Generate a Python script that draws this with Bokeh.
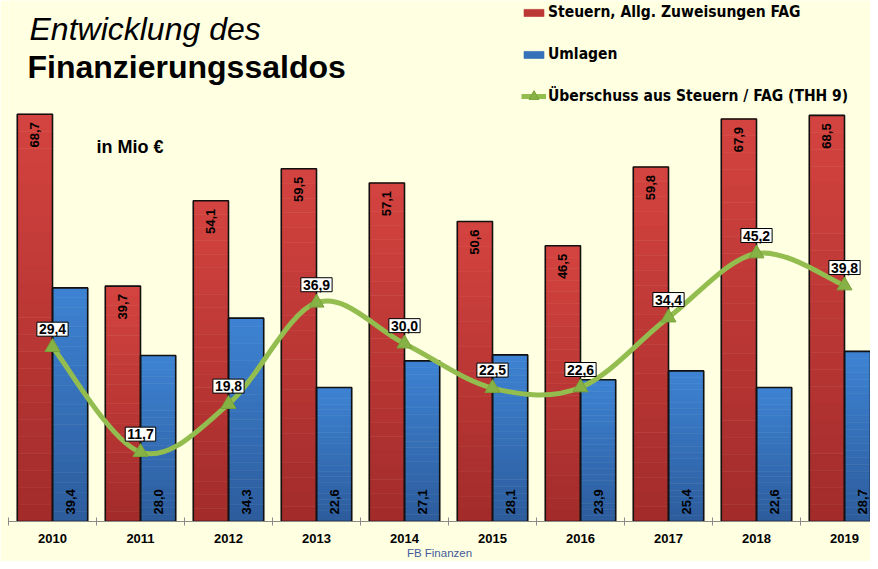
import numpy as np
from bokeh.plotting import figure
from bokeh.models import Range1d, FixedTicker, Legend, LegendItem, Label, ColumnDataSource
from bokeh.core.properties import value
from bokeh.embed import file_html
from bokeh.resources import INLINE

# ---------------- data ----------------
years = ["2010", "2011", "2012", "2013", "2014", "2015", "2016", "2017", "2018", "2019"]
steuern = [68.7, 39.7, 54.1, 59.5, 57.1, 50.6, 46.5, 59.8, 67.9, 68.5]
umlagen = [39.4, 28.0, 34.3, 22.6, 27.1, 28.1, 23.9, 25.4, 22.6, 28.7]
ueberschuss = [29.4, 11.7, 19.8, 36.9, 30.0, 22.5, 22.6, 34.4, 45.2, 39.8]

series_names = ["Steuern, Allg. Zuweisungen FAG", "Umlagen", "Überschuss aus Steuern / FAG (THH 9)"]
title_1 = "Entwicklung des"
title_2 = "Finanzierungssaldos"
unit_text = "in Mio €"
source_text = "FB Finanzen"

# ---------------- styling ----------------
BG = "#FFFFE1"
GREEN = "#93bd4f"
GREEN_MK = "#86b145"
FONT = "Liberation Sans"
NARROW = "'Liberation Sans Narrow', 'DejaVu Sans Condensed', sans-serif"

W, H = 870, 561
LEFT = 8
FRAME_H = 522
CAT_PX = 88.0
PX_PER_UNIT = 5.94


def fmt(v):
    return f"{v:.1f}".replace(".", ",")


def mix(c0, c1, t):
    a = [int(c0[i:i + 2], 16) for i in (1, 3, 5)]
    b = [int(c1[i:i + 2], 16) for i in (1, 3, 5)]
    return "#%02x%02x%02x" % tuple(int(round(a[k] + (b[k] - a[k]) * t)) for k in range(3))


# pixel helpers for decorative text placement (origin top-left of figure)
def dx(px):
    return (px - LEFT) / CAT_PX


def dy(py):
    return (FRAME_H - py) / PX_PER_UNIT


p = figure(width=W, height=H,
           x_range=Range1d(0, (W - LEFT) / CAT_PX), y_range=Range1d(0, FRAME_H / PX_PER_UNIT),
           output_backend="svg", toolbar_location=None,
           min_border_left=LEFT, min_border_right=0, min_border_top=0, min_border_bottom=H - FRAME_H,
           y_axis_location=None,
           background_fill_color=BG, border_fill_color=BG, outline_line_color=None)
p.xgrid.visible = False
p.ygrid.visible = False

n = len(years)
centers = [i + 0.5 for i in range(n)]
BW = 0.4
red_x = [c - BW / 2 for c in centers]
blue_x = [c + BW / 2 for c in centers]

# gradient bars built as slices of each bar
NS = 24
def gradient_source(xs, vals, c_bottom, c_top):
    sx, sb, st, sc = [], [], [], []
    for x, v in zip(xs, vals):
        for k in range(NS):
            sx.append(x)
            sb.append(v * k / NS)
            st.append(v * (k + 1) / NS)
            sc.append(mix(c_bottom, c_top, (k + 0.5) / NS))
    return ColumnDataSource(dict(x=sx, bottom=sb, top=st, color=sc))

red_src = gradient_source(red_x, steuern, "#a22b2b", "#d4443f")
blue_src = gradient_source(blue_x, umlagen, "#2d5c9c", "#3d83d3")

r_red = p.vbar(x="x", bottom="bottom", top="top", width=BW, source=red_src,
               fill_color="color", line_color="color", line_width=0.6)
r_blue = p.vbar(x="x", bottom="bottom", top="top", width=BW, source=blue_src,
                fill_color="color", line_color="color", line_width=0.6)
r_red_o = p.vbar(x=red_x, top=steuern, width=BW, fill_color=None, line_color="#111111", line_width=1.6)
r_blue_o = p.vbar(x=blue_x, top=umlagen, width=BW, fill_color=None, line_color="#111111", line_width=1.6)

# bar value labels (rotated)
p.text(x=red_x, y=steuern, text=[fmt(v) for v in steuern], angle=np.pi / 2,
       text_align="right", text_baseline="middle", y_offset=8,
       text_font=value(FONT), text_font_style="bold", text_font_size="13px", text_color="#000000")
p.text(x=blue_x, y=[0] * n, text=[fmt(v) for v in umlagen], angle=np.pi / 2,
       text_align="left", text_baseline="middle", y_offset=-7,
       text_font=value(FONT), text_font_style="bold", text_font_size="13px", text_color="#000000")

# smoothed line (cubic Bezier segments through data points)
x0, y0, x1, y1, cx0, cy0, cx1, cy1 = [], [], [], [], [], [], [], []
for i in range(n - 1):
    pa = (centers[i], ueberschuss[i])
    pb = (centers[i + 1], ueberschuss[i + 1])
    pp = (centers[i - 1], ueberschuss[i - 1]) if i > 0 else pa
    pn = (centers[i + 2], ueberschuss[i + 2]) if i + 2 < n else pb
    x0.append(pa[0]); y0.append(pa[1]); x1.append(pb[0]); y1.append(pb[1])
    cx0.append(pa[0] + (pb[0] - pp[0]) / 6); cy0.append(pa[1] + (pb[1] - pp[1]) / 6)
    cx1.append(pb[0] - (pn[0] - pa[0]) / 6); cy1.append(pb[1] - (pn[1] - pa[1]) / 6)
p.bezier(x0=x0, y0=y0, x1=x1, y1=y1, cx0=cx0, cy0=cy0, cx1=cx1, cy1=cy1,
         line_color=GREEN, line_width=5)
# legend-only line sample (one NaN point, draws nothing in the plot)
r_line_leg = p.line(x=[np.nan], y=[np.nan], line_color=GREEN, line_width=5)
r_mk = p.scatter(x=centers, y=ueberschuss, marker="triangle", size=15,
                 fill_color=GREEN_MK, line_color="#79a23a", line_width=1)

p.text(x=centers, y=ueberschuss, text=[fmt(v) for v in ueberschuss], y_offset=-18,
       text_align="center", text_baseline="middle",
       text_font=value(FONT), text_font_style="bold", text_font_size="14px", text_color="#000000",
       background_fill_color="white", border_line_color="black", border_line_width=1, padding=2)

# x axis
ax = p.xaxis[0]
ax.ticker = FixedTicker(ticks=centers, minor_ticks=list(range(n + 1)))
ax.major_label_overrides = {c: y for c, y in zip(centers, years)}
ax.major_tick_line_color = None
ax.major_tick_out = 0
ax.major_tick_in = 0
ax.minor_tick_line_color = "#8a8a8a"
ax.minor_tick_in = 4
ax.minor_tick_out = 4
ax.axis_line_color = "#8a8a8a"
ax.axis_line_width = 1
ax.major_label_standoff = 8
ax.major_label_text_font = FONT
ax.major_label_text_font_style = "bold"
ax.major_label_text_font_size = "13px"
ax.major_label_text_color = "#000000"
ax.axis_label = source_text
ax.axis_label_standoff = 1
ax.axis_label_text_font = FONT
ax.axis_label_text_font_style = "normal"
ax.axis_label_text_font_size = "11.5px"
ax.axis_label_text_color = "#3f5c9c"

# titles and unit
p.add_layout(Label(x=dx(29), y=dy(29), text=title_1, text_font=FONT, text_font_style="italic",
                   text_font_size="32px", text_color="#000000", text_baseline="alphabetic"))
p.add_layout(Label(x=dx(27), y=dy(67), text=title_2, text_font=FONT, text_font_style="bold",
                   text_font_size="32px", text_color="#000000", text_baseline="alphabetic"))
p.add_layout(Label(x=dx(96), y=dy(147), text=unit_text, text_font=FONT, text_font_style="bold",
                   text_font_size="18px", text_color="#000000", text_baseline="middle"))

# legends
LH, LS = 20, 22
common = dict(orientation="vertical", background_fill_alpha=0, border_line_color=None,
              padding=0, margin=0, glyph_width=25, label_standoff=2,
              label_text_font=NARROW, label_text_font_style="bold", label_text_font_size="15.5px",
              label_text_color="#000000")
legend_bars = Legend(items=[
    LegendItem(label=series_names[0], renderers=[r_red, r_red_o], index=NS // 2),
    LegendItem(label=series_names[1], renderers=[r_blue, r_blue_o], index=NS // 2),
], location=(521 - LEFT, FRAME_H - (3 + 2 * LH + LS)),
    glyph_height=9, label_height=LH, spacing=LS, **common)
GH2 = 26
legend_line = Legend(items=[
    LegendItem(label=series_names[2], renderers=[r_line_leg, r_mk], index=0),
], location=(521 - LEFT, FRAME_H - (97 + GH2 // 2)),
    glyph_height=GH2, label_height=GH2, spacing=0, **common)
p.add_layout(legend_bars)
p.add_layout(legend_line)

open("out.html", "w").write(file_html(p, INLINE))
